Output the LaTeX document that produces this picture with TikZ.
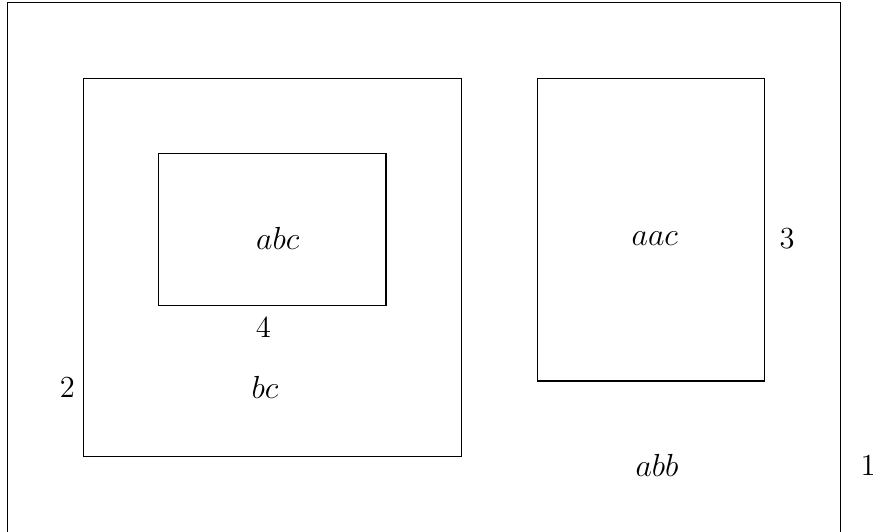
\documentclass[tikz,border=0pt]{standalone}
\begin{document}
\begin{tikzpicture}[box/.style={draw,line width=0.4pt},
  lab/.style={inner sep=0pt,font=\fontsize{11.5}{14}\selectfont}]
\useasboundingbox (-0.099,0.018) rectangle (11.433,7.033);
\draw[box] (0,0) rectangle (11,7);
\draw[box] (1,1) rectangle (6,6);
\draw[box] (2,3) rectangle (5,5);
\draw[box] (7,2) rectangle (10,6);
\node[lab] (abc) at (3.57,3.88) {$abc$};
\node[lab] (four) at (3.38,2.71) {4};
\node[lab] (bc) at (3.40,1.92) {$bc$};
\node[lab] (two) at (0.79,1.92) {2};
\node[lab] (aac) at (8.55,3.88) {$aac$};
\node[lab] (three) at (10.30,3.88) {3};
\node[lab] (abb) at (8.58,0.89) {$abb$};
\node[lab] (one) at (11.37,0.89) {1};
\end{tikzpicture}
\end{document}
